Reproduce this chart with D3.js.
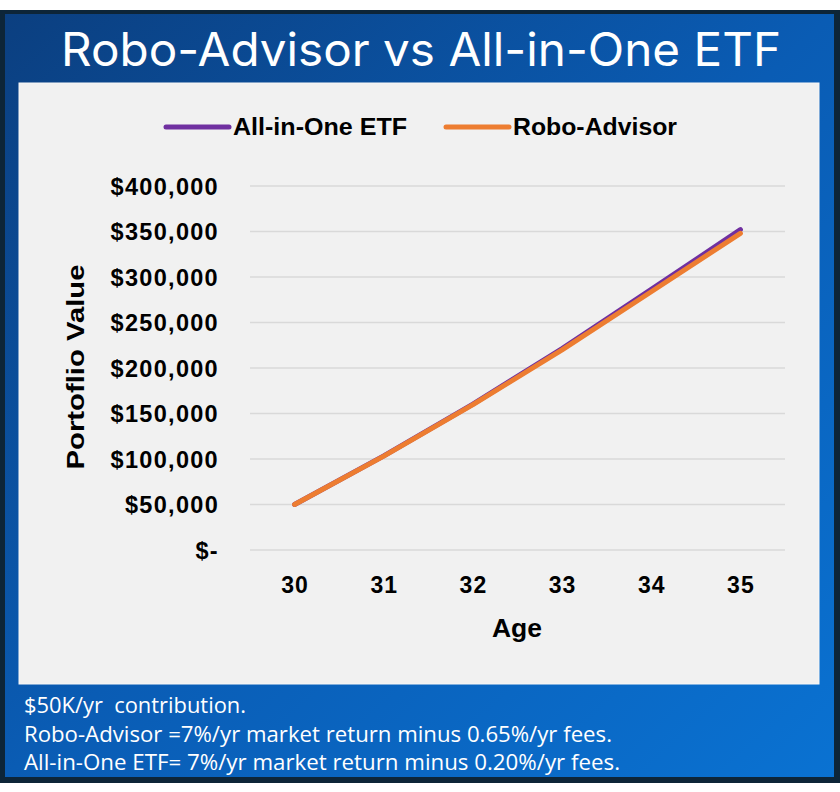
<!DOCTYPE html>
<html><head><meta charset="utf-8">
<script src="https://cdn.jsdelivr.net/npm/d3@7"></script>
<style>html,body{margin:0;padding:0;background:#fff;}svg{display:block;}text.foot{white-space:pre;}</style>
</head><body>
<script>
const ages = [30, 31, 32, 33, 34, 35];
const etfValues = [50000, 103400, 160400, 221300, 286400, 352000];
const roboValues = [50000, 103200, 159700, 219900, 283800, 348000];
const yTicks = [0, 50000, 100000, 150000, 200000, 250000, 300000, 350000, 400000];
const seriesNames = ["All-in-One ETF", "Robo-Advisor"];
const seriesColors = ["#7030a0", "#ed7d31"];
const titleText = "Robo-Advisor vs All-in-One ETF";
const footerLines = ["$50K/yr  contribution.", "Robo-Advisor =7%/yr market return minus 0.65%/yr fees.", "All-in-One ETF= 7%/yr market return minus 0.20%/yr fees."];

const W = 840, H = 792;
const svg = d3.select("body").append("svg").attr("width", W).attr("height", H);
const defs = svg.append("defs");
const grad = defs.append("linearGradient").attr("id", "bg").attr("x1", "0").attr("y1", "0").attr("x2", "1").attr("y2", "1");
grad.append("stop").attr("offset", "0").attr("stop-color", "#0b3f80");
grad.append("stop").attr("offset", "0.5").attr("stop-color", "#0a5cb4");
grad.append("stop").attr("offset", "1").attr("stop-color", "#0a72d2");

svg.append("rect").attr("x", 0).attr("y", 10).attr("width", 840).attr("height", 773).attr("fill", "#0d2538");
svg.append("rect").attr("x", 5).attr("y", 14).attr("width", 829).attr("height", 763).attr("fill", "url(#bg)");
svg.append("rect").attr("x", 19).attr("y", 83).attr("width", 800).attr("height", 601).attr("fill", "#f1f1f1").attr("stroke", "#f7f7f7").attr("stroke-width", 1);

svg.append("text").attr("x", 421).attr("y", 66).attr("text-anchor", "middle")
  .attr("font-family", "Inter, 'Open Sans', sans-serif").attr("font-size", 46).attr("font-weight", 400)
  .attr("fill", "#fff").attr("textLength", 720).attr("lengthAdjust", "spacingAndGlyphs").text(titleText);

const x = d3.scalePoint().domain(ages).range([250, 785]).padding(0.5);
const y = d3.scaleLinear().domain([0, 400000]).range([550, 186]);

const fmt = v => v === 0 ? "$-" : "$" + d3.format(",")(v);
const boldFont = "'Liberation Sans', Arial, sans-serif";

const g = svg.append("g");
g.selectAll("line.grid").data(yTicks).join("line").attr("class", "grid")
  .attr("x1", 250).attr("x2", 785).attr("y1", d => y(d)).attr("y2", d => y(d))
  .attr("stroke", "#d9d9d9").attr("stroke-width", 1.5);

const yAxis = g.append("g").attr("transform", "translate(219,0)")
  .call(d3.axisLeft(y).tickValues(yTicks).tickFormat(fmt).tickSize(0).tickPadding(0));
yAxis.select(".domain").remove();
yAxis.selectAll("text").attr("font-family", boldFont).attr("font-weight", "bold")
  .attr("font-size", 23.5).attr("letter-spacing", 1.3).attr("fill", "#000").attr("dy", "0.36em");

const xAxis = g.append("g").attr("transform", "translate(0,585)")
  .call(d3.axisBottom(x).tickSize(0).tickPadding(0));
xAxis.select(".domain").remove();
xAxis.selectAll("text").attr("font-family", boldFont).attr("font-weight", "bold")
  .attr("font-size", 23).attr("letter-spacing", 1).attr("fill", "#000").attr("dy", "0.36em");

svg.append("text").attr("x", 517).attr("y", 637).attr("text-anchor", "middle")
  .attr("font-family", boldFont).attr("font-weight", "bold")
  .attr("font-size", 25).attr("fill", "#000").attr("textLength", 50).attr("lengthAdjust", "spacingAndGlyphs").text("Age");

svg.append("text").attr("transform", "translate(84,367) rotate(-90)").attr("text-anchor", "middle")
  .attr("font-family", boldFont).attr("font-weight", "bold")
  .attr("font-size", 24).attr("fill", "#000").attr("textLength", 205).attr("lengthAdjust", "spacingAndGlyphs").text("Portoflio Value");

const line = d3.line().x((d, i) => x(ages[i])).y(d => y(d));
const allSeries = [etfValues, roboValues];
svg.selectAll("path.series").data(allSeries).join("path").attr("class", "series")
  .attr("d", d => line(d)).attr("fill", "none")
  .attr("stroke", (d, i) => seriesColors[i]).attr("stroke-width", 5)
  .attr("stroke-linecap", "round").attr("stroke-linejoin", "round");

const legendX = [166, 446];
const legendLen = [174, 164];
const leg = svg.selectAll("g.leg").data(seriesNames).join("g").attr("class", "leg")
  .attr("transform", (d, i) => `translate(${legendX[i]},127)`);
leg.append("line").attr("x1", 0).attr("x2", 63).attr("y1", 0).attr("y2", 0)
  .attr("stroke", (d, i) => seriesColors[i]).attr("stroke-width", 5).attr("stroke-linecap", "round");
leg.append("text").attr("x", 67).attr("y", 0).attr("dy", "0.36em")
  .attr("font-family", boldFont).attr("font-weight", "bold")
  .attr("font-size", 23).attr("fill", "#000")
  .attr("textLength", (d, i) => legendLen[i]).attr("lengthAdjust", "spacingAndGlyphs").text(d => d);

const footerLen = [222, 588, 596];
svg.selectAll("text.foot").data(footerLines).join("text").attr("class", "foot")
  .attr("x", 24).attr("y", (d, i) => 713 + i * 28.5)
  .attr("font-family", "'Open Sans', 'Liberation Sans', sans-serif")
  .attr("font-size", 21).attr("fill", "#fff")
  .attr("textLength", (d, i) => footerLen[i]).attr("lengthAdjust", "spacingAndGlyphs").text(d => d);
</script>
</body></html>
